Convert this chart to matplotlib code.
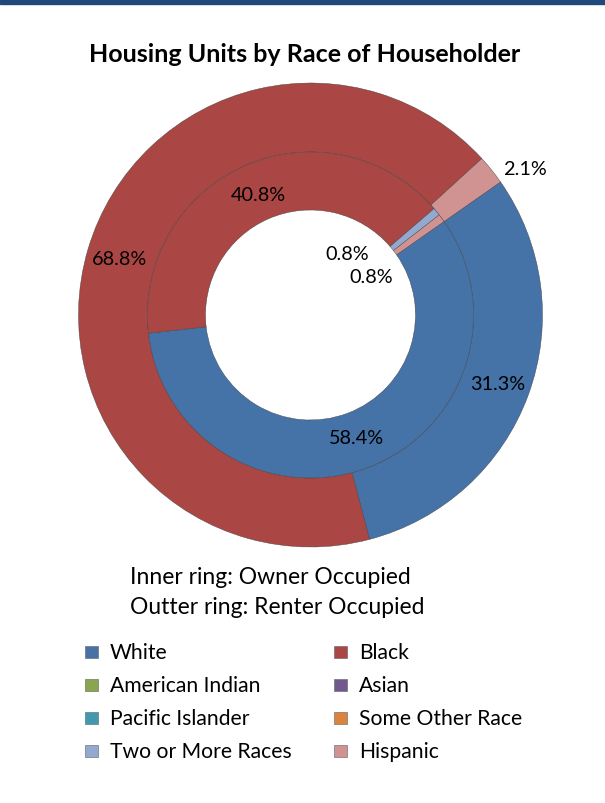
import matplotlib
matplotlib.use("Agg")
import matplotlib.pyplot as plt
import numpy as np
from matplotlib.patches import Rectangle

categories = ["White", "Black", "American Indian", "Asian", "Pacific Islander",
              "Some Other Race", "Two or More Races", "Hispanic"]
colors = ["#4572A7", "#AA4643", "#89A54E", "#71588F", "#4198AF",
          "#DB843D", "#93A9CF", "#D19392"]
owner_pct = [58.4, 40.8, 0.0, 0.0, 0.0, 0.0, 0.8, 0.8]    # inner ring
renter_pct = [31.3, 68.8, 0.0, 0.0, 0.0, 0.0, 0.0, 2.1]   # outer ring

title = "Housing Units by Race of Householder"
note_lines = ["Inner ring: Owner Occupied", "Outter ring: Renter Occupied"]

FONT = ["Lato", "DejaVu Sans"]
plt.rcParams['font.family'] = FONT

W, H = 605, 804
fig = plt.figure(figsize=(W / 100, H / 100), dpi=100)

# top band
fig.patches.append(Rectangle((0, 1 - 5 / H), 1, 5 / H, transform=fig.transFigure,
                             color="#1F497D", zorder=0))

fig.text(305 / W, 1 - 55 / H, title, ha="center", va="center",
         fontsize=18, fontweight="bold")

# pie axes: center (310.5, 316), outer radius 232 px
R = 232
cx, cy = 310.5, 316
ax = fig.add_axes([(cx - R) / W, 1 - (cy + R) / H, 2 * R / W, 2 * R / H])

r_mid = 163 / R
r_in = 105 / R
start = 35

def ring(vals, radius, width):
    v = np.array(vals)
    idx = [i for i in range(len(v)) if v[i] > 0]
    wedges, _ = ax.pie(v[idx], radius=radius, startangle=start, counterclock=False,
                       colors=[colors[i] for i in idx],
                       wedgeprops=dict(width=width, edgecolor="#404040", linewidth=0.3),
                       normalize=True)
    return idx, wedges

oi, ow = ring(renter_pct, 1.0, 1.0 - r_mid)
ii, iw = ring(owner_pct, r_mid, r_mid - r_in)
ax.set_xlim(-1, 1)
ax.set_ylim(-1, 1)
ax.set_aspect("equal")
ax.axis("off")

LFS = 14.3
# outer labels
for i, w in zip(oi, ow):
    mid = np.deg2rad((w.theta1 + w.theta2) / 2)
    val = renter_pct[i]
    if val < 5:
        rr = 257 / R
        mid = np.deg2rad(w.theta1 - 0.3)
        ax.text(rr * np.cos(mid) + 0.012, rr * np.sin(mid), f"{val:.1f}%", ha="center",
                va="center", fontsize=LFS)
    else:
        rr = 199 / R
        ax.text(rr * np.cos(mid), rr * np.sin(mid), f"{val:.1f}%", ha="center",
                va="center", fontsize=LFS)

# inner labels
small_offsets = [20, -4]
k = 0
for i, w in zip(ii, iw):
    mid = np.deg2rad((w.theta1 + w.theta2) / 2)
    val = owner_pct[i]
    if val < 5:
        a = np.deg2rad((w.theta1 + w.theta2) / 2 + small_offsets[k])
        k += 1
        rr = 72 / R
        ax.text(rr * np.cos(a), rr * np.sin(a), f"{val:.1f}%", ha="center",
                va="center", fontsize=LFS)
    else:
        rr = 131 / R
        ax.text(rr * np.cos(mid), rr * np.sin(mid), f"{val:.1f}%", ha="center",
                va="center", fontsize=LFS)

# notes
fig.text(130 / W, 1 - 578 / H, note_lines[0], ha="left", va="center", fontsize=16.5)
fig.text(130 / W, 1 - 608 / H, note_lines[1], ha="left", va="center", fontsize=16.5)

# legend (row-major, two columns)
col_x = [85, 334]
for k, (name, c) in enumerate(zip(categories, colors)):
    row, col = divmod(k, 2)
    y = 653 + 33 * row
    fig.patches.append(Rectangle((col_x[col] / W, 1 - (y + 6) / H), 12.5 / W, 12.5 / H,
                                 transform=fig.transFigure, facecolor=c,
                                 edgecolor="#606060", linewidth=0.4))
    fig.text((col_x[col] + 25) / W, 1 - y / H, name, ha="left", va="center",
             fontsize=15.2)

fig.savefig("out.png", dpi=100)
